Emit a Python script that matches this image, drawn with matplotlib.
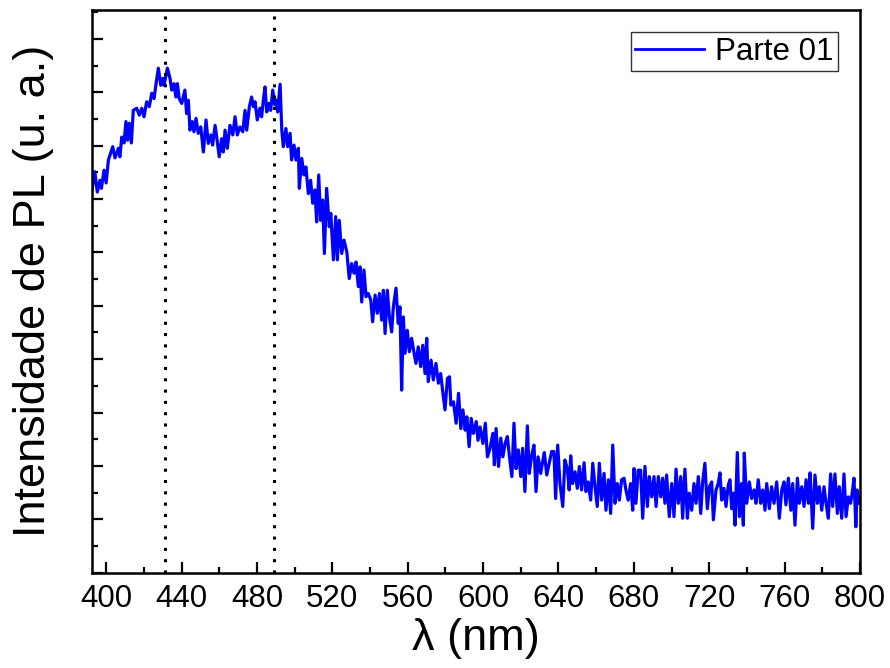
import matplotlib
matplotlib.use("Agg")
import matplotlib.pyplot as plt
from matplotlib.ticker import MultipleLocator

plt.rcParams['font.family'] = ['Liberation Sans', 'DejaVu Sans']

# Wavelength (nm) and PL intensity (arbitrary units)
wavelength = [
    392.5, 394.0, 395.3, 396.7, 397.5, 398.9, 400.0, 401.2, 403.5, 404.7,
    406.5, 407.3, 408.3, 409.5, 410.5, 411.4, 412.3, 413.4, 414.4, 416.2,
    417.6, 418.9, 420.1, 421.5, 422.9, 424.2, 425.4, 426.5, 427.7, 429.0,
    430.0, 430.7, 432.5, 433.9, 434.8, 436.0, 437.0, 437.8, 438.8, 440.1,
    441.8, 442.7, 443.6, 444.5, 445.7, 446.6, 447.7, 448.9, 450.2, 451.6,
    453.0, 454.2, 455.5, 456.5, 457.8, 459.0, 460.0, 461.3, 462.2, 463.1,
    464.3, 465.7, 467.2, 468.4, 469.6, 471.0, 472.5, 473.7, 474.6, 476.0,
    477.2, 478.1, 479.0, 480.2, 481.6, 482.5, 483.4, 484.3, 485.2, 486.4,
    487.3, 488.4, 489.6, 490.5, 491.0, 492.3, 493.2, 494.0, 495.4, 496.3,
    497.6, 498.4, 499.7, 500.7, 502.0, 502.5, 503.8, 505.0, 506.0, 507.3,
    508.5, 509.6, 510.8, 511.7, 512.8, 513.8, 514.9, 515.8, 517.0, 518.4,
    519.2, 520.6, 521.8, 522.7, 523.7, 525.0, 526.2, 527.7, 529.0, 530.3,
    531.5, 532.6, 533.8, 534.7, 535.6, 536.8, 537.9, 539.1, 540.4, 541.4,
    542.7, 543.9, 545.0, 546.2, 547.1, 548.0, 549.2, 550.3, 551.5, 552.4,
    553.8, 555.0, 555.9, 556.8, 557.7, 558.6, 559.8, 560.9, 562.1, 563.4,
    564.4, 565.6, 566.9, 568.0, 569.2, 570.1, 570.9, 572.4, 573.6, 575.0,
    576.3, 577.5, 578.6, 579.8, 581.1, 582.2, 582.9, 584.3, 585.7, 587.0,
    588.2, 589.3, 590.5, 591.4, 592.6, 593.7, 594.9, 596.4, 597.3, 598.4,
    599.9, 601.2, 602.3, 603.7, 605.2, 606.0, 606.9, 608.2, 609.4, 610.5,
    611.7, 612.9, 614.0, 615.3, 616.4, 617.5, 618.7, 620.0, 621.0, 622.2,
    623.5, 624.5, 625.8, 627.0, 628.1, 629.2, 630.6, 631.6, 632.5, 633.8,
    635.1, 636.4, 637.6, 638.5, 639.6, 640.8, 642.3, 643.4, 644.7, 645.7,
    646.5, 647.5, 648.8, 650.0, 651.1, 652.3, 653.6, 654.6, 655.8, 657.1,
    658.2, 659.4, 660.6, 661.7, 662.9, 664.2, 665.2, 666.5, 667.7, 668.8,
    670.0, 671.2, 672.3, 673.5, 674.8, 675.8, 677.0, 678.3, 679.4, 680.1,
    681.1, 682.3, 683.6, 684.7, 685.9, 687.2, 688.2, 689.5, 690.7, 691.8,
    693.0, 694.3, 695.3, 696.5, 697.4, 698.8, 700.1, 701.3, 702.4, 703.6,
    704.9, 705.9, 707.1, 708.4, 709.4, 710.7, 711.9, 713.0, 714.2, 715.5,
    716.5, 717.7, 719.0, 720.1, 721.3, 722.2, 723.6, 724.8, 725.7, 726.6,
    727.8, 728.9, 730.1, 731.0, 731.9, 732.8, 733.7, 734.9, 736.0, 737.2,
    738.1, 738.6, 739.9, 741.3, 742.5, 743.8, 744.8, 746.0, 747.3, 748.4,
    749.6, 750.5, 751.9, 753.1, 754.4, 755.8, 757.2, 758.5, 759.7, 760.7,
    762.0, 763.3, 764.3, 765.5, 766.8, 767.8, 769.1, 770.3, 771.4, 772.6,
    773.5, 774.9, 776.1, 777.4, 778.4, 779.7, 780.9, 782.0, 783.2, 784.4,
    785.5, 786.7, 788.0, 789.0, 790.3, 791.5, 792.6, 793.8, 795.0, 796.1,
    796.8, 797.8, 798.5, 799.6,
]
intensity = [
    7.17, 7.51, 7.13, 7.35, 7.20, 7.54, 7.30, 7.73, 7.98, 7.77,
    7.95, 7.79, 8.16, 8.05, 8.45, 8.10, 8.42, 8.05, 8.66, 8.70,
    8.57, 8.70, 8.54, 8.82, 8.73, 8.98, 8.88, 9.16, 9.45, 9.13,
    9.26, 9.13, 9.45, 9.26, 9.04, 9.16, 8.91, 9.16, 8.88, 8.79,
    9.04, 8.60, 8.85, 8.29, 8.45, 8.26, 8.51, 8.23, 8.35, 7.88,
    8.48, 8.04, 8.20, 8.01, 8.38, 8.07, 7.79, 8.13, 7.88, 8.29,
    7.95, 8.38, 8.20, 8.54, 8.20, 8.35, 8.26, 8.66, 8.29, 8.73,
    8.91, 8.73, 8.82, 8.48, 8.70, 8.54, 8.85, 9.10, 8.63, 8.79,
    8.66, 9.04, 8.76, 8.85, 8.63, 9.15, 8.29, 7.98, 8.32, 7.98,
    8.23, 7.73, 8.01, 7.73, 7.95, 7.20, 7.76, 7.45, 7.60, 7.10,
    7.35, 6.92, 7.17, 6.57, 7.45, 6.60, 6.98, 5.98, 7.20, 6.48,
    6.73, 5.86, 6.67, 5.86, 6.60, 5.98, 6.23, 6.01, 5.51, 5.79,
    5.61, 5.82, 5.36, 5.73, 5.07, 5.67, 5.17, 5.23, 5.11, 4.70,
    5.20, 4.86, 5.23, 4.73, 5.29, 4.48, 5.29, 4.79, 4.51, 4.98,
    5.33, 4.67, 4.98, 3.42, 4.79, 4.11, 4.54, 4.14, 4.39, 4.11,
    3.92, 4.23, 3.86, 4.26, 3.73, 4.39, 3.58, 3.98, 3.61, 3.92,
    3.55, 3.73, 3.39, 3.05, 3.64, 3.67, 3.14, 3.20, 2.80, 3.36,
    2.70, 3.05, 2.67, 2.92, 2.36, 2.89, 2.61, 2.83, 2.48, 2.73,
    2.42, 2.80, 2.17, 2.33, 2.61, 2.02, 2.70, 1.99, 2.52, 2.17,
    2.42, 2.55, 2.17, 1.80, 2.80, 1.95, 2.30, 1.80, 2.33, 1.52,
    2.75, 1.86, 2.20, 2.39, 1.52, 2.17, 1.86, 2.08, 2.25, 1.83,
    2.05, 2.27, 2.27, 1.39, 2.39, 1.67, 1.24, 2.11, 1.95, 1.55,
    2.19, 1.67, 1.89, 1.58, 1.99, 1.55, 2.06, 1.52, 1.70, 1.36,
    2.05, 1.61, 1.24, 2.05, 1.36, 1.86, 1.17, 1.74, 1.11, 2.39,
    1.30, 1.67, 1.36, 1.74, 1.77, 1.55, 1.36, 1.67, 1.17, 1.95,
    1.30, 1.92, 1.92, 1.02, 1.99, 1.24, 1.80, 1.42, 1.80, 1.24,
    1.80, 1.42, 1.77, 1.30, 1.83, 1.05, 1.67, 1.05, 1.94, 1.30,
    1.80, 1.02, 1.94, 1.02, 1.49, 1.17, 1.67, 1.30, 1.80, 1.11,
    1.70, 2.05, 1.20, 1.61, 1.70, 0.99, 1.55, 1.67, 1.87, 1.36,
    1.58, 1.24, 1.64, 1.74, 1.20, 1.49, 0.89, 2.25, 1.05, 1.67,
    0.89, 2.24, 1.30, 1.70, 1.39, 1.55, 1.30, 1.74, 1.30, 1.55,
    1.17, 1.67, 1.20, 1.61, 1.30, 1.70, 1.02, 1.55, 1.70, 1.27,
    1.77, 1.17, 1.67, 0.89, 1.77, 1.30, 1.61, 1.24, 1.74, 1.30,
    1.87, 0.83, 1.83, 1.30, 1.61, 1.17, 1.61, 1.30, 1.02, 1.85,
    1.24, 1.85, 1.11, 1.61, 1.02, 1.85, 1.05, 1.42, 1.30, 1.55,
    1.77, 0.86, 1.55, 1.30,
]

peak_lines = [431, 489]
series_label = "Parte 01"
xticks = [400, 440, 480, 520, 560, 600, 640, 680, 720, 760, 800]

fig = plt.figure(figsize=(8.9, 6.68), dpi=100)
ax = fig.add_axes([92 / 890, 1 - 572.7 / 668, 768 / 890, 562.7 / 668])

ax.plot(wavelength, intensity, color='#0000ff', linewidth=2.3, label=series_label,
        solid_joinstyle='round')
for xl in peak_lines:
    ax.axvline(xl, color='black', linewidth=2.2, linestyle=(0, (1.0, 2.7)))

ax.set_xlim(392.5, 800)
ax.set_ylim(0, 10.54)
ax.set_xticks(xticks)
ax.xaxis.set_minor_locator(MultipleLocator(20))
ax.yaxis.set_major_locator(MultipleLocator(1))
ax.yaxis.set_minor_locator(MultipleLocator(0.5))
ax.set_yticklabels([])

ax.tick_params(axis='both', which='major', direction='in', length=8, width=1.6,
               labelsize=22.5, pad=8)
ax.tick_params(axis='both', which='minor', direction='in', length=4, width=1.6)
ax.tick_params(axis='y', which='both', labelleft=False)
for sp in ax.spines.values():
    sp.set_linewidth(1.8)

ax.set_xlabel("λ (nm)", fontsize=32.5, labelpad=3)
ax.set_ylabel("Intensidade de PL (u. a.)", fontsize=32.5)
ax.yaxis.set_label_coords(-0.05, 0.5)

leg = ax.legend(loc='upper right', fontsize=22.5, frameon=True, fancybox=False,
                edgecolor='black', borderpad=0.15, handlelength=2.2,
                handletextpad=0.35, borderaxespad=0.7)
leg.get_frame().set_linewidth(1.0)
leg.get_lines()[0].set_linewidth(2.0)

fig.savefig("out.png", dpi=100)
